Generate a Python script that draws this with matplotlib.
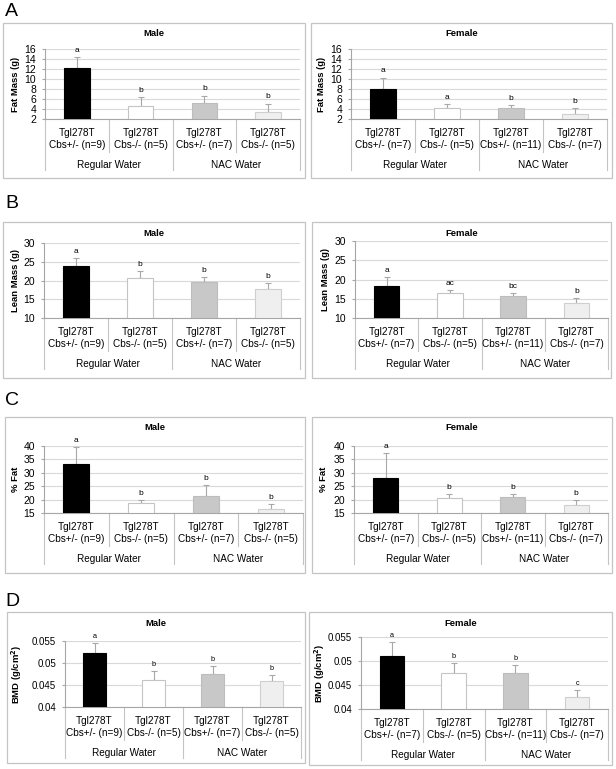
import matplotlib
matplotlib.use('Agg')
import matplotlib.pyplot as plt
from matplotlib.patches import Rectangle
from matplotlib.transforms import blended_transform_factory

plt.rcParams['font.family'] = ['Liberation Sans', 'DejaVu Sans']

W, H = 616, 769
fig = plt.figure(figsize=(W / 100, H / 100), dpi=100)

# ---------------- data ----------------
genotypes = ["Tgl278T\nCbs+/-", "Tgl278T\nCbs-/-", "Tgl278T\nCbs+/-", "Tgl278T\nCbs-/-"]
groups = ["Regular Water", "NAC Water"]
n_male = [9, 5, 7, 5]
n_female = [7, 5, 11, 7]

fat_male = [12.3, 4.7, 5.3, 3.5]
fat_male_sd = [2.1, 1.8, 1.4, 1.6]
fat_male_sig = ["a", "b", "b", "b"]
fat_female = [8.0, 4.2, 4.2, 3.0]
fat_female_sd = [2.3, 0.8, 0.6, 1.2]
fat_female_sig = ["a", "a", "b", "b"]

lean_male = [23.9, 20.7, 19.7, 17.8]
lean_male_sd = [2.1, 1.8, 1.2, 1.5]
lean_male_sig = ["a", "b", "b", "b"]
lean_female = [18.3, 16.6, 15.6, 14.0]
lean_female_sd = [2.3, 0.8, 0.8, 1.1]
lean_female_sig = ["a", "ac", "bc", "b"]

pfat_male = [33.1, 18.6, 21.3, 16.5]
pfat_male_sd = [6.7, 1.3, 4.1, 1.9]
pfat_male_sig = ["a", "b", "b", "b"]
pfat_female = [28.2, 20.7, 20.9, 18.0]
pfat_female_sd = [9.1, 1.3, 1.2, 1.8]
pfat_female_sig = ["a", "b", "b", "b"]

bmd_male = [0.0522, 0.0461, 0.0475, 0.0460]
bmd_male_sd = [0.0024, 0.0021, 0.0018, 0.0012]
bmd_male_sig = ["a", "b", "b", "b"]
bmd_female = [0.0511, 0.0475, 0.0475, 0.0426]
bmd_female_sd = [0.0028, 0.0021, 0.0017, 0.0014]
bmd_female_sig = ["a", "b", "b", "c"]

fat_ticks = [2, 4, 6, 8, 10, 12, 14, 16]
lean_ticks = [10, 15, 20, 25, 30]
pfat_ticks = [15, 20, 25, 30, 35, 40]
bmd_ticks = [0.04, 0.045, 0.05, 0.055]
bmd_ticklabels = ["0.04", "0.045", "0.05", "0.055"]

bar_colors = ['#000000', '#ffffff', '#c8c8c8', '#efefef']
bar_edges = ['#000000', '#c4c4c4', '#bdbdbd', '#cfcfcf']


def panel(box, plot, title_y, title, ylabel, ticks, ticklabels, vals, sds, sig, ns,
          ylab_x, sig_fs=6, tick_fs=7.5):
    x0, y0, x1, y1 = box
    fig.patches.append(Rectangle((x0 / W, 1 - y1 / H), (x1 - x0) / W, (y1 - y0) / H,
                                 transform=fig.transFigure, fill=False,
                                 ec='#c4c4c4', lw=0.9))
    fig.text((x0 + x1) / 2 / W, 1 - title_y / H, title, ha='center', va='center',
             fontsize=6.8, fontweight='bold')
    px0, py0, px1, py1 = plot
    hpx = py1 - py0
    wpx = px1 - px0
    ax = fig.add_axes([px0 / W, 1 - py1 / H, wpx / W, hpx / H])
    xs = list(range(len(vals)))
    ax.bar(xs, [v - ticks[0] for v in vals], bottom=ticks[0], width=0.4,
           color=bar_colors, edgecolor=bar_edges, linewidth=0.8, zorder=3)
    ax.errorbar(xs, vals, yerr=[[0] * len(vals), sds], fmt='none', ecolor='#a8a8a8',
                elinewidth=0.8, capsize=2, capthick=0.8, zorder=2)
    for x, v, s, t in zip(xs, vals, sds, sig):
        ax.annotate(t, xy=(x, v + s), xytext=(0, 3), textcoords='offset pixels',
                    ha='center', va='bottom', fontsize=sig_fs)
    ax.set_xlim(-0.5, len(vals) - 0.5)
    ax.set_ylim(ticks[0], ticks[-1])
    ax.set_yticks(ticks)
    ax.set_yticklabels(ticklabels)
    ax.set_axisbelow(True)
    ax.yaxis.grid(True, color='#d9d9d9', lw=0.8)
    ax.tick_params(axis='y', length=2.3, width=0.8, color='#a6a6a6', labelsize=tick_fs, pad=4)
    ax.tick_params(axis='x', length=0, labelbottom=False)
    for sp in ['top', 'right']:
        ax.spines[sp].set_visible(False)
    for sp in ['left', 'bottom']:
        ax.spines[sp].set_color('#a6a6a6')
        ax.spines[sp].set_linewidth(0.8)
    # y label placed by its centre (figure pixel x)
    fig.text(ylab_x / W, 1 - (py0 + py1) / 2 / H, ylabel, rotation=90, ha='center',
             va='center', fontsize=6.8, fontweight='bold')
    tr = blended_transform_factory(ax.transData, ax.transAxes)
    # category labels
    for x, g, n in zip(xs, genotypes, ns):
        ax.annotate(f"{g} (n={n})", xy=(x, 0), xycoords=tr, xytext=(0, -20),
                    textcoords='offset pixels', ha='center', va='center',
                    fontsize=7.2, linespacing=1.25, annotation_clip=False)
    # group labels
    for gi, g in enumerate(groups):
        ax.annotate(g, xy=(2 * gi + 0.5, 0), xycoords=tr, xytext=(0, -46),
                    textcoords='offset pixels', ha='center', va='center',
                    fontsize=7.2, annotation_clip=False)
    # dividers
    for xd, L in [(-0.5, 51), (0.5, 33), (1.5, 51), (2.5, 33), (3.5, 51)]:
        ax.plot([xd, xd], [0, -L / hpx], transform=tr, color='#c4c4c4', lw=0.8,
                clip_on=False)
    return ax


# Panel letters
for lab, y in [("A", 12), ("B", 204), ("C", 400), ("D", 601)]:
    fig.text(5 / W, 1 - y / H, lab, ha='left', va='center', fontsize=14)

fat_lbls = [str(t) for t in fat_ticks]
lean_lbls = [str(t) for t in lean_ticks]
pfat_lbls = [str(t) for t in pfat_ticks]

panel((3, 23, 305, 178), (45, 49, 300, 119), 33, "Male", "Fat Mass (g)",
      fat_ticks, fat_lbls, fat_male, fat_male_sd, fat_male_sig, n_male, 16)
panel((311, 23, 612, 178), (351, 49, 607, 119), 33, "Female", "Fat Mass (g)",
      fat_ticks, fat_lbls, fat_female, fat_female_sd, fat_female_sig, n_female, 322)

panel((3, 222, 305, 378), (44, 243, 300, 318), 233, "Male", "Lean Mass (g)",
      lean_ticks, lean_lbls, lean_male, lean_male_sd, lean_male_sig, n_male, 15)
panel((312, 222, 611, 378), (355, 241, 608, 318), 233, "Female", "Lean Mass (g)",
      lean_ticks, lean_lbls, lean_female, lean_female_sd, lean_female_sig, n_female, 325)

panel((5, 417, 305, 573), (44, 446, 303, 513), 428, "Male", "% Fat",
      pfat_ticks, pfat_lbls, pfat_male, pfat_male_sd, pfat_male_sig, n_male, 15)
panel((312, 417, 612, 573), (354, 446, 608, 513), 428, "Female", "% Fat",
      pfat_ticks, pfat_lbls, pfat_female, pfat_female_sd, pfat_female_sig, n_female, 324)

panel((7, 612, 305, 763), (65, 641, 301, 707), 623, "Male", r"BMD (g/cm$^\mathbf{2}$)",
      bmd_ticks, bmd_ticklabels, bmd_male, bmd_male_sd, bmd_male_sig, n_male, 17,
      sig_fs=5.2, tick_fs=7)
panel((309, 612, 612, 765), (361, 637, 608, 709), 623, "Female", r"BMD (g/cm$^\mathbf{2}$)",
      bmd_ticks, bmd_ticklabels, bmd_female, bmd_female_sd, bmd_female_sig, n_female, 320,
      sig_fs=5.2, tick_fs=7)

fig.savefig("out.png", dpi=100)
